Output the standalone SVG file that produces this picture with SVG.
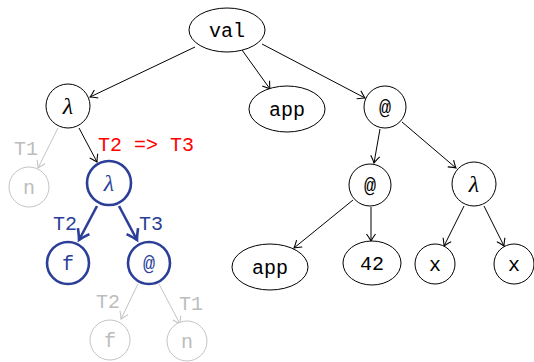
<svg xmlns="http://www.w3.org/2000/svg" width="534" height="362" viewBox="0 0 534 362">
<style>
.n{fill:#fff;stroke:#000;stroke-width:1}
.g{fill:#fff;stroke:#c4c4c4;stroke-width:1}
.b{fill:#fff;stroke:#2b3f98;stroke-width:2.6}
.t{font-family:"Liberation Mono",monospace;font-size:20px;text-anchor:middle;dominant-baseline:central;fill:#000}
.l{font-family:"Liberation Serif",serif;font-style:italic;font-size:24px;text-anchor:middle;dominant-baseline:central;fill:#000}
.tg{fill:#bdbdbd}
.tb{fill:#2b3f98}
.e{fill:none;stroke:#000;stroke-width:1;marker-end:url(#a)}
.eg{fill:none;stroke:#c4c4c4;stroke-width:1;marker-end:url(#ag)}
.eb{fill:none;stroke:#2b3f98;stroke-width:2.6;marker-end:url(#ab)}
</style>
<defs>
<marker id="a" markerUnits="userSpaceOnUse" viewBox="-10 -6 12 12" markerWidth="12" markerHeight="12" refX="0" refY="0" orient="auto" overflow="visible">
<path d="M-7,-4.5 Q-2,-1 0,0 Q-2,1 -7,4.5" fill="none" stroke="#000" stroke-width="1.1"/>
</marker>
<marker id="ag" markerUnits="userSpaceOnUse" viewBox="-10 -6 12 12" markerWidth="12" markerHeight="12" refX="0" refY="0" orient="auto" overflow="visible">
<path d="M-7,-4.5 Q-2,-1 0,0 Q-2,1 -7,4.5" fill="none" stroke="#c4c4c4" stroke-width="1.1"/>
</marker>
<marker id="ab" markerUnits="userSpaceOnUse" viewBox="-12 -8 14 16" markerWidth="14" markerHeight="16" refX="0" refY="0" orient="auto" overflow="visible">
<path d="M-10,-6.5 Q-3,-1.5 0,0 Q-3,1.5 -10,6.5" fill="none" stroke="#2b3f98" stroke-width="2.6"/>
</marker>
</defs>
<g id="connectors">
<line class="e" x1="195" y1="47" x2="90" y2="97"/>
<line class="e" x1="242" y1="50" x2="270" y2="89"/>
<line class="e" x1="262" y1="44" x2="365" y2="98"/>
<line class="e" x1="380" y1="129" x2="374" y2="163"/>
<line class="e" x1="402" y1="122" x2="456" y2="168"/>
<line class="e" x1="353" y1="200" x2="294" y2="248"/>
<line class="e" x1="371" y1="207" x2="371" y2="241"/>
<line class="e" x1="464" y1="206" x2="444" y2="246"/>
<line class="e" x1="484" y1="206" x2="504" y2="246"/>
<line class="eg" x1="58" y1="128" x2="38" y2="168"/>
<line class="e" x1="79" y1="128" x2="97" y2="162"/>
<line class="eb" x1="97" y1="206" x2="79" y2="240"/>
<line class="eb" x1="119" y1="206" x2="137" y2="240"/>
<line class="eg" x1="138" y1="284" x2="121" y2="319"/>
<line class="eg" x1="159" y1="284" x2="180" y2="324"/>
<text class="t tg" x="26" y="149">T1</text>
<text class="t" x="146" y="145" style="fill:#ff0000">T2 =&gt; T3</text>
<text class="t tb" x="65" y="224">T2</text>
<text class="t tb" x="151" y="224">T3</text>
<text class="t tg" x="108" y="302">T2</text>
<text class="t tg" x="191" y="304">T1</text>
</g>
<g id="val"><ellipse class="n" cx="227" cy="30" rx="38" ry="22"/><text class="t" x="227" y="31">val</text></g>
<g id="lam1"><circle class="n" cx="68" cy="106" r="22"/><text class="l" x="68" y="106">λ</text></g>
<g id="app1"><ellipse class="n" cx="287" cy="109" rx="38" ry="23"/><text class="t" x="287" y="110">app</text></g>
<g id="at1"><circle class="n" cx="385" cy="107" r="21"/><text class="t" x="385" y="108">@</text></g>
<g id="at2"><circle class="n" cx="370" cy="185" r="21"/><text class="t" x="370" y="186">@</text></g>
<g id="lam2"><circle class="n" cx="474" cy="184" r="22"/><text class="l" x="474" y="184">λ</text></g>
<g id="app2"><ellipse class="n" cx="270" cy="267" rx="38" ry="23"/><text class="t" x="270" y="268">app</text></g>
<g id="n42"><ellipse class="n" cx="372" cy="263" rx="29" ry="22"/><text class="t" x="372" y="264">42</text></g>
<g id="x1"><circle class="n" cx="435" cy="264" r="20"/><text class="t" x="435" y="265">x</text></g>
<g id="x2"><circle class="n" cx="514" cy="264" r="20"/><text class="t" x="514" y="265">x</text></g>
<g id="n1"><circle class="g" cx="29" cy="187" r="20"/><text class="t tg" x="29" y="188">n</text></g>
<g id="lamb"><circle class="b" cx="109" cy="183" r="22"/><text class="l tb" x="109" y="183">λ</text></g>
<g id="fb"><circle class="b" cx="68" cy="263" r="21"/><text class="t tb" x="68" y="264">f</text></g>
<g id="atb"><circle class="b" cx="149" cy="263" r="21"/><text class="t tb" x="149" y="264">@</text></g>
<g id="fg"><circle class="g" cx="110" cy="340" r="20"/><text class="t tg" x="110" y="341">f</text></g>
<g id="n2"><circle class="g" cx="187" cy="341" r="20"/><text class="t tg" x="187" y="342">n</text></g>
</svg>
